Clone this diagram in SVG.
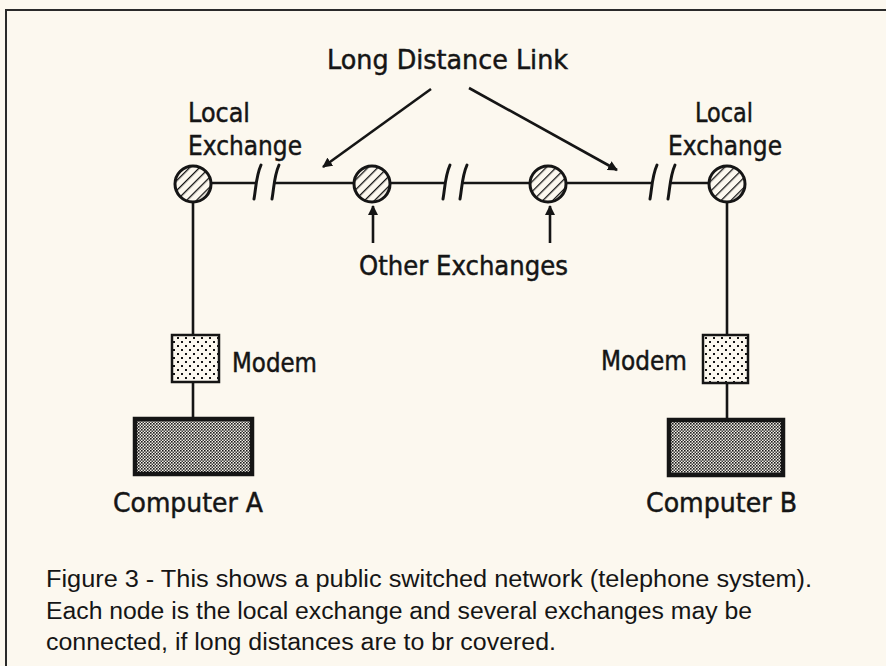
<svg xmlns="http://www.w3.org/2000/svg" width="886" height="666" viewBox="0 0 886 666">
<style>
.bg{fill:#fcf8ef}
.frame{stroke:#2a2a2a;stroke-width:2;fill:none}
.lbl{font-family:"DejaVu Sans",sans-serif;font-size:27px;fill:#151515;stroke:#151515;stroke-width:0.5}
.cap{font-family:"Liberation Sans",Arial,sans-serif;font-size:23px;fill:#151515}
.ln{stroke:#151515;stroke-width:2.6;fill:none}
.brk{stroke:#151515;stroke-width:3;fill:none;stroke-linecap:round}
.exc{fill:url(#hatch);stroke:#151515;stroke-width:3}
.modem{fill:url(#dots);stroke:#151515;stroke-width:2.5}
.comp{fill:url(#checker);stroke:#151515;stroke-width:4.5}
</style>
<defs>
<pattern id="hatch" patternUnits="userSpaceOnUse" width="7" height="7" patternTransform="rotate(45)">
<rect width="7" height="7" fill="#fcf8ef"/>
<line x1="0" y1="0" x2="0" y2="7" stroke="#151515" stroke-width="2.6"/>
</pattern>
<pattern id="dots" patternUnits="userSpaceOnUse" width="8" height="8">
<rect width="8" height="8" fill="#fcf8ef"/>
<rect x="1" y="1" width="2" height="2" fill="#151515"/>
<rect x="5" y="5" width="2" height="2" fill="#151515"/>
</pattern>
<pattern id="checker" patternUnits="userSpaceOnUse" width="3" height="3">
<rect width="3" height="3" fill="#f4f0e8"/>
<rect x="0" y="0" width="1.6" height="1.6" fill="#1a1a1a"/>
<rect x="1.5" y="1.5" width="1.5" height="1.5" fill="#3a3a3a"/>
</pattern>
<marker id="ah" viewBox="0 0 10 10" refX="9" refY="5" markerWidth="10" markerHeight="10" markerUnits="userSpaceOnUse" orient="auto">
<path d="M0,0 L10,5 L0,10 z" fill="#151515"/>
</marker>
</defs>
<rect class="bg" x="0" y="0" width="886" height="666"/>
<path class="frame" d="M6,666 V10 H886"/>

<g id="connectors">
<line class="ln" x1="211" y1="183" x2="256" y2="183"/>
<line class="ln" x1="274" y1="183" x2="354" y2="183"/>
<line class="ln" x1="390" y1="183" x2="444" y2="183"/>
<line class="ln" x1="461" y1="183" x2="530" y2="183"/>
<line class="ln" x1="566" y1="183" x2="652" y2="183"/>
<line class="ln" x1="670" y1="183" x2="709" y2="183"/>
<path class="brk" d="M254,199 C256,188 256,176 261,165"/>
<path class="brk" d="M272,199 C274,188 274,176 279,165"/>
<path class="brk" d="M443,199 C445,188 445,176 450,165"/>
<path class="brk" d="M460,199 C462,188 462,176 467,165"/>
<path class="brk" d="M650,199 C652,188 652,176 657,165"/>
<path class="brk" d="M668,199 C670,188 670,176 675,165"/>
<line class="ln" x1="193" y1="202" x2="193" y2="335"/>
<line class="ln" x1="193" y1="382" x2="193" y2="417"/>
<line class="ln" x1="727" y1="202" x2="727" y2="335"/>
<line class="ln" x1="727" y1="383" x2="727" y2="418"/>
<line class="ln" x1="431" y1="89" x2="323" y2="167" marker-end="url(#ah)"/>
<line class="ln" x1="469" y1="88" x2="617" y2="170" marker-end="url(#ah)"/>
<line class="ln" x1="373" y1="243" x2="373" y2="206" marker-end="url(#ah)"/>
<line class="ln" x1="550" y1="243" x2="550" y2="206" marker-end="url(#ah)"/>
</g>

<g id="exchange-left"><circle class="exc" cx="193" cy="184" r="18"/></g>
<g id="exchange-2"><circle class="exc" cx="372" cy="184" r="18"/></g>
<g id="exchange-3"><circle class="exc" cx="548" cy="184" r="18"/></g>
<g id="exchange-right"><circle class="exc" cx="727" cy="184" r="18"/></g>

<g id="modem-a"><rect class="modem" x="172" y="335" width="47" height="47"/></g>
<g id="modem-b"><rect class="modem" x="703" y="335" width="45" height="48"/></g>
<g id="computer-a"><rect class="comp" x="135" y="419" width="117" height="55"/></g>
<g id="computer-b"><rect class="comp" x="669" y="420" width="114" height="55"/></g>

<g id="labels">
<text class="lbl" x="327" y="69" textLength="241" lengthAdjust="spacingAndGlyphs">Long Distance Link</text>
<text class="lbl" x="188" y="122" textLength="62" lengthAdjust="spacingAndGlyphs">Local</text>
<text class="lbl" x="188" y="155" textLength="114" lengthAdjust="spacingAndGlyphs">Exchange</text>
<text class="lbl" x="695" y="122" textLength="58" lengthAdjust="spacingAndGlyphs">Local</text>
<text class="lbl" x="668" y="155" textLength="114" lengthAdjust="spacingAndGlyphs">Exchange</text>
<text class="lbl" x="359" y="275" textLength="209" lengthAdjust="spacingAndGlyphs">Other Exchanges</text>
<text class="lbl" x="232" y="372" textLength="85" lengthAdjust="spacingAndGlyphs">Modem</text>
<text class="lbl" x="601" y="370" textLength="86" lengthAdjust="spacingAndGlyphs">Modem</text>
<text class="lbl" x="113" y="512" textLength="150" lengthAdjust="spacingAndGlyphs">Computer A</text>
<text class="lbl" x="646" y="512" textLength="151" lengthAdjust="spacingAndGlyphs">Computer B</text>
</g>

<g id="caption">
<text class="cap" x="46" y="587" textLength="766" lengthAdjust="spacingAndGlyphs">Figure 3 - This shows a public switched network (telephone system).</text>
<text class="cap" x="46" y="619" textLength="706" lengthAdjust="spacingAndGlyphs">Each node is the local exchange and several exchanges may be</text>
<text class="cap" x="46" y="650" textLength="510" lengthAdjust="spacingAndGlyphs">connected, if long distances are to br covered.</text>
</g>
</svg>
